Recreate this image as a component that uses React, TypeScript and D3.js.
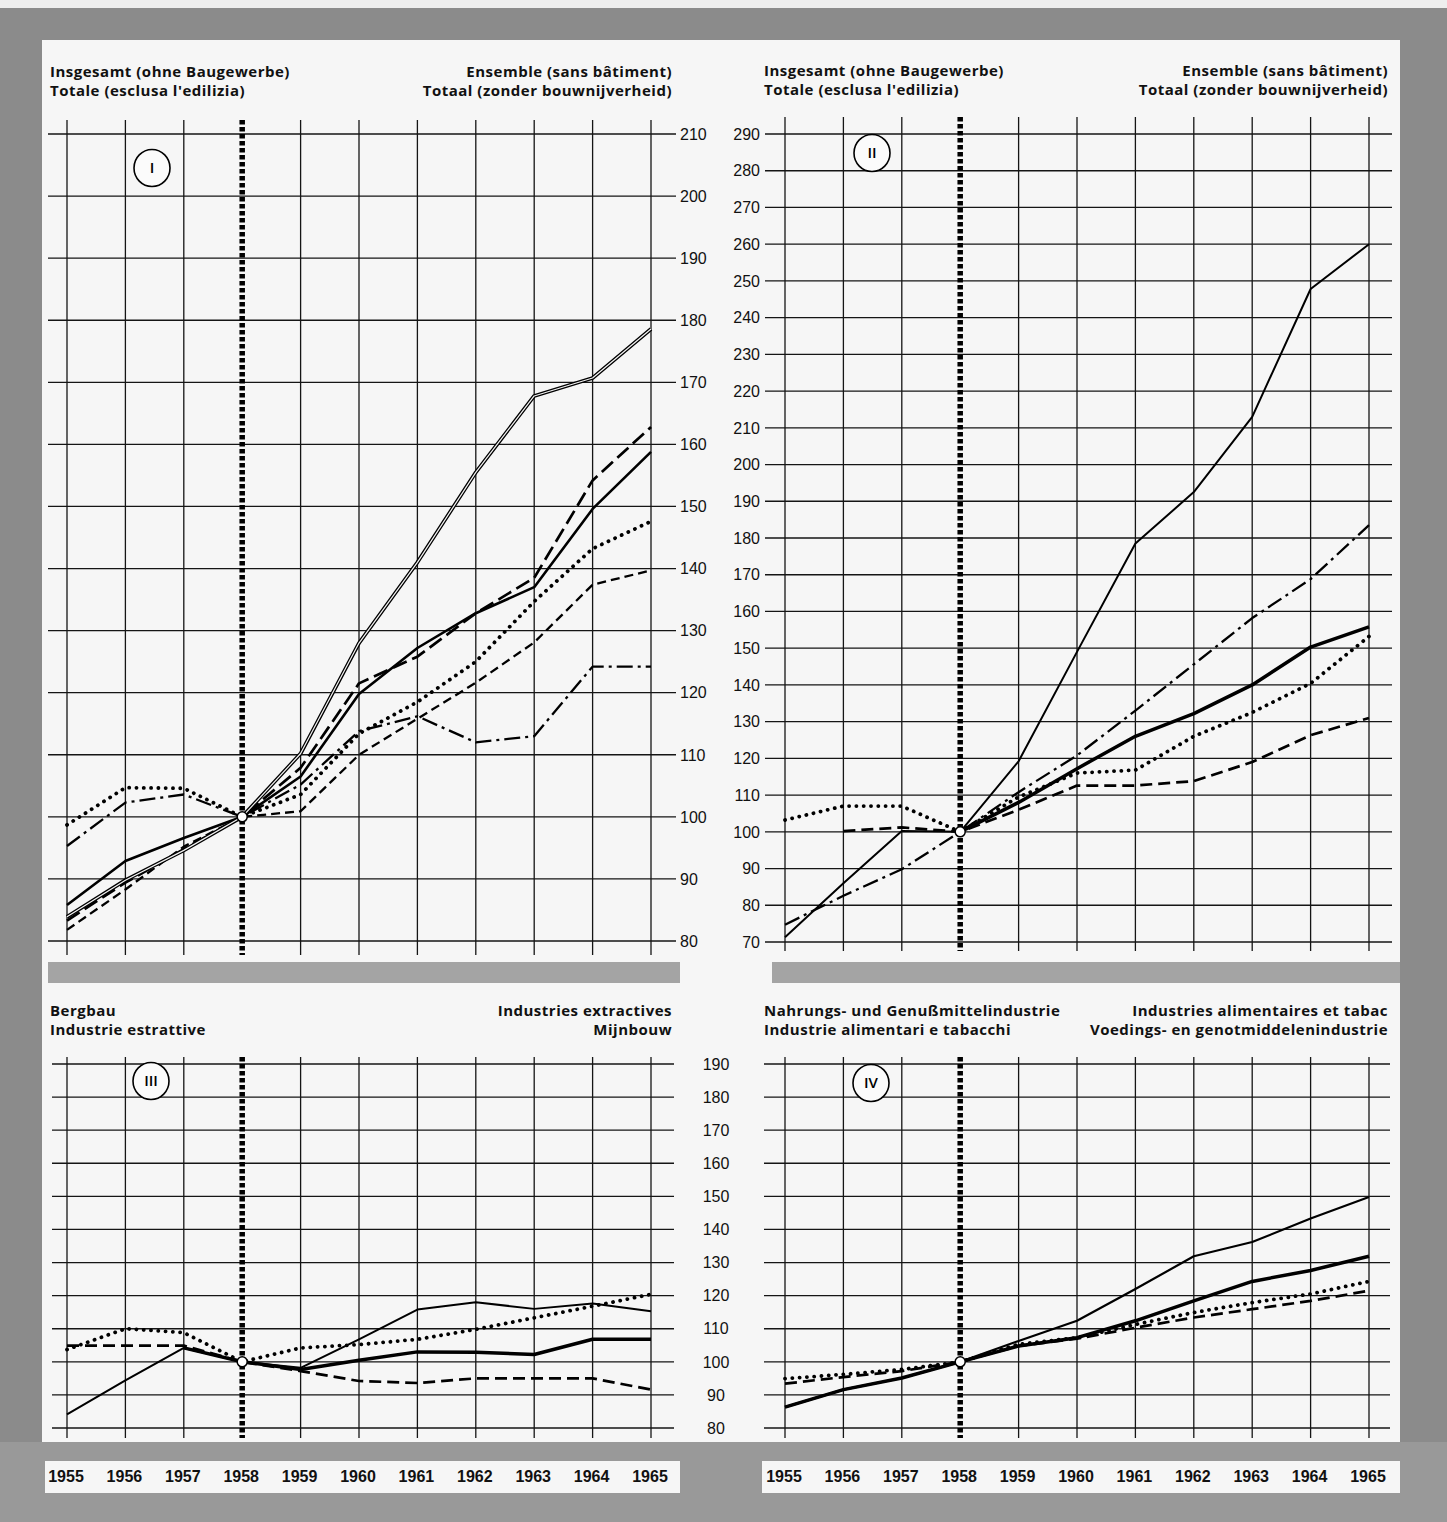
import React from "react";
import * as d3 from "d3";

// ---------- DATA ----------
const years = [1955, 1956, 1957, 1958, 1959, 1960, 1961, 1962, 1963, 1964, 1965];

// Panel I – Insgesamt / Ensemble
const I_double = [83.9, 89.8, 94.6, 100, 110.2, 128, 141, 155.5, 167.8, 170.7, 178.6];
const I_longDash = [83.3, 89.4, 94.8, 100, 107.9, 121.5, 125.8, 132.8, 138.5, 154.2, 162.8];
const I_solid = [85.8, 92.9, 96.6, 100, 106.5, 119.8, 127.2, 132.8, 137, 149.6, 158.8];
const I_dotted = [98.7, 104.7, 104.6, 100, 103.6, 113.4, 118.5, 125, 134.7, 143.2, 147.6];
const I_shortDash = [81.8, 88.3, 95.2, 100, 100.9, 110, 115.8, 121.6, 128.1, 137.4, 139.7];
const I_dashDot = [95.3, 102.3, 103.6, 100, 105.2, 113.8, 116.2, 112, 113, 124.2, 124.2];

// Panel II – Insgesamt / Ensemble
const II_thin = [71.3, 86, 100.2, 100, 119.2, 149, 178.5, 192.5, 213, 247.8, 260];
const II_dashDot = [74.7, 82.6, 89.8, 100, 110.8, 120.8, 133, 145.6, 158.2, 168.8, 183.5];
const II_thick = [null, null, null, 100, 108, 117.2, 126, 132.2, 140, 150.3, 155.8];
const II_dotted = [103.2, 107, 107, 100, 109.5, 116, 116.8, 126, 132.5, 140.4, 153.2];
const II_dashed = [null, 100.2, 101.2, 100, 106, 112.6, 112.6, 113.8, 119, 126.3, 131];

// Panel III – Bergbau
const III_thin = [84.1, 94.4, 104.2, 100, 98.2, 106.8, 115.8, 118, 116, 117.6, 115.3];
const III_thick = [null, null, 104.2, 100, 97.7, 100.5, 103, 102.9, 102.2, 106.8, 106.8];
const III_dotted = [103.7, 110, 108.8, 100, 104.2, 105.2, 106.8, 109.8, 113.3, 116.8, 120.4];
const III_dashed = [104.9, 104.9, 104.9, 100, 97.2, 94.2, 93.6, 95, 95, 95, 91.6];

// Panel IV – Nahrungs- und Genußmittelindustrie
const IV_thin = [86.3, 91.6, 95.1, 100, 106.3, 112.4, 122, 131.9, 136.2, 143.3, 149.8];
const IV_thick = [86.3, 91.6, 95.1, 100, 104.8, 107.3, 112.4, 118.4, 124.3, 127.6, 131.9];
const IV_dotted = [94.9, 96.2, 97.7, 100, 105.3, 107.3, 111.3, 114.9, 117.9, 120.5, 124.3];
const IV_dashed = [93.4, 95.4, 97.2, 100, 104.8, 107, 110.3, 113.4, 115.9, 118.4, 121.5];

// Tick labels
const ticksI = d3.range(80, 211, 10);
const ticksII = d3.range(70, 291, 10);
const ticksIII = d3.range(80, 191, 10);

// Texts
const headI = {
  left: ["Insgesamt (ohne Baugewerbe)", "Totale (esclusa l'edilizia)"],
  right: ["Ensemble (sans bâtiment)", "Totaal (zonder bouwnijverheid)"],
};
const headIII = {
  left: ["Bergbau", "Industrie estrattive"],
  right: ["Industries extractives", "Mijnbouw"],
};
const headIV = {
  left: ["Nahrungs- und Genußmittelindustrie", "Industrie alimentari e tabacchi"],
  right: ["Industries alimentaires et tabac", "Voedings- en genotmiddelenindustrie"],
};

// ---------- STYLE ----------
type Style = { w: number; dash?: string; cap?: "round" | "butt"; double?: boolean };
const S_thin: Style = { w: 2 };
const S_solid: Style = { w: 2.6 };
const S_thick: Style = { w: 3.5 };
const S_double: Style = { w: 3.8, double: true };
const S_longDash: Style = { w: 2.7, dash: "15 6" };
const S_shortDash: Style = { w: 2.3, dash: "9 5" };
const S_dashed: Style = { w: 2.7, dash: "12 6" };
const S_dotted: Style = { w: 3.8, dash: "0.1 7.2", cap: "round" };
const S_dashDot: Style = { w: 2.3, dash: "16 5 3 5" };

type Series = { values: (number | null)[]; style: Style };

type Panel = {
  key: string;
  xRange: [number, number];
  yDomain: [number, number];
  yRange: [number, number];
  vTop: number;
  vBottom: number;
  hLeft: number;
  hRight: number;
  ticks: number[];
  labelX: number | null;
  labelAnchor: "start" | "end" | "middle";
  head: { left: string[]; right: string[] };
  headLeftX: number;
  headRightX: number;
  headY: number;
  roman: string;
  romanPos: [number, number];
  series: Series[];
  yearStrip: boolean;
};

const panels: Panel[] = [
  {
    key: "I", xRange: [67, 651], yDomain: [80, 210], yRange: [941, 134],
    vTop: 120, vBottom: 955, hLeft: 48, hRight: 676, ticks: ticksI,
    labelX: 680, labelAnchor: "start", head: headI, headLeftX: 50, headRightX: 672, headY: 77,
    roman: "I", romanPos: [152, 168], yearStrip: false,
    series: [
      { values: I_shortDash, style: S_shortDash },
      { values: I_dashDot, style: S_dashDot },
      { values: I_dotted, style: S_dotted },
      { values: I_solid, style: S_solid },
      { values: I_longDash, style: S_longDash },
      { values: I_double, style: S_double },
    ],
  },
  {
    key: "II", xRange: [785, 1369], yDomain: [70, 290], yRange: [942, 134],
    vTop: 117, vBottom: 951, hLeft: 765, hRight: 1392, ticks: ticksII,
    labelX: 760, labelAnchor: "end", head: headI, headLeftX: 764, headRightX: 1388, headY: 76,
    roman: "II", romanPos: [872, 153], yearStrip: false,
    series: [
      { values: II_dashed, style: S_dashed },
      { values: II_dotted, style: S_dotted },
      { values: II_thick, style: S_thick },
      { values: II_dashDot, style: S_dashDot },
      { values: II_thin, style: S_thin },
    ],
  },
  {
    key: "III", xRange: [67, 651], yDomain: [80, 190], yRange: [1428, 1064],
    vTop: 1057, vBottom: 1438, hLeft: 52, hRight: 674, ticks: ticksIII,
    labelX: 716, labelAnchor: "middle", head: headIII, headLeftX: 50, headRightX: 672, headY: 1016,
    roman: "III", romanPos: [151, 1081], yearStrip: true,
    series: [
      { values: III_dashed, style: S_dashed },
      { values: III_dotted, style: S_dotted },
      { values: III_thick, style: S_thick },
      { values: III_thin, style: S_thin },
    ],
  },
  {
    key: "IV", xRange: [785, 1369], yDomain: [80, 190], yRange: [1428, 1064],
    vTop: 1057, vBottom: 1438, hLeft: 764, hRight: 1390, ticks: ticksIII,
    labelX: null, labelAnchor: "middle", head: headIV, headLeftX: 764, headRightX: 1388, headY: 1016,
    roman: "IV", romanPos: [871, 1083], yearStrip: true,
    series: [
      { values: IV_dashed, style: S_dashed },
      { values: IV_dotted, style: S_dotted },
      { values: IV_thick, style: S_thick },
      { values: IV_thin, style: { w: 2.2 } },
    ],
  },
];

const headFont = "'Open Sans', Lato, sans-serif";
const numFont = "'Liberation Sans Narrow', 'Liberation Sans', Arial, sans-serif";

function PanelView({ p }: { p: Panel }) {
  const x = d3.scaleLinear().domain([years[0], years[years.length - 1]]).range(p.xRange);
  const y = d3.scaleLinear().domain(p.yDomain).range(p.yRange);
  const line = d3
    .line<number | null>()
    .defined((d) => d != null)
    .x((_, i) => x(years[i]))
    .y((d) => y(d as number));
  const ink = "#151515";
  return (
    <g>
      {/* horizontal grid */}
      {p.ticks.map((t) => (
        <line key={"h" + t} x1={p.hLeft} x2={p.hRight} y1={y(t)} y2={y(t)} stroke={ink} strokeWidth={1.3} />
      ))}
      {/* vertical grid */}
      {years.map((yr) =>
        yr === 1958 ? null : (
          <line key={"v" + yr} x1={x(yr)} x2={x(yr)} y1={p.vTop} y2={p.vBottom} stroke={ink} strokeWidth={1.3} />
        )
      )}
      {/* base-year dotted bar */}
      <line x1={x(1958)} x2={x(1958)} y1={p.vTop} y2={p.vBottom} stroke="#000" strokeWidth={5.5} strokeDasharray="4.5 2.5" />
      {/* tick labels */}
      {p.labelX != null &&
        p.ticks.map((t) => (
          <text key={"t" + t} x={p.labelX as number} y={y(t)} dy="0.36em" textAnchor={p.labelAnchor}
            fontFamily={numFont} fontSize={16} fill="#111">
            {t}
          </text>
        ))}
      {/* series */}
      {p.series.map((s, i) => {
        const d = line(s.values) || "";
        if (s.style.double) {
          return (
            <g key={"s" + i}>
              <path d={d} fill="none" stroke="#000" strokeWidth={s.style.w} strokeLinejoin="round" />
              <path d={d} fill="none" stroke="#f4f4f4" strokeWidth={1.2} strokeLinejoin="round" />
            </g>
          );
        }
        return (
          <path key={"s" + i} d={d} fill="none" stroke="#000" strokeWidth={s.style.w}
            strokeDasharray={s.style.dash} strokeLinecap={s.style.cap || "butt"} strokeLinejoin="round" />
        );
      })}
      {/* base point */}
      <circle cx={x(1958)} cy={y(100)} r={5} fill="#fff" stroke="#000" strokeWidth={1.5} />
      {/* roman numeral */}
      <ellipse cx={p.romanPos[0]} cy={p.romanPos[1]} rx={18} ry={18.5} fill="#fbfbfb" stroke="#000" strokeWidth={1.6} />
      <text x={p.romanPos[0]} y={p.romanPos[1]} dy="0.36em" textAnchor="middle" fontFamily={headFont}
        fontWeight={600} fontSize={15} fill="#000">
        {p.roman}
      </text>
      {/* headers */}
      {p.head.left.map((t, i) => (
        <text key={"hl" + i} x={p.headLeftX} y={p.headY + i * 19} fontFamily={headFont} fontWeight={700}
          fontSize={15} letterSpacing={0.5} fill="#111">
          {t}
        </text>
      ))}
      {p.head.right.map((t, i) => (
        <text key={"hr" + i} x={p.headRightX} y={p.headY + i * 19} textAnchor="end" fontFamily={headFont}
          fontWeight={700} fontSize={15} letterSpacing={0.5} fill="#111">
          {t}
        </text>
      ))}
      {/* year labels */}
      {p.yearStrip &&
        years.map((yr) => (
          <text key={"y" + yr} x={x(yr) - 1} y={1482} textAnchor="middle" fontFamily={numFont}
            fontWeight={700} fontSize={16} fill="#111">
            {yr}
          </text>
        ))}
    </g>
  );
}

export default function App() {
  return (
    <div style={{ position: "absolute", left: 0, top: 0, width: 1447, height: 1522 }}>
      <svg width={1447} height={1522} viewBox="0 0 1447 1522" style={{ display: "block" }}>
        {/* scanned page background */}
        <rect x={0} y={0} width={1447} height={1522} fill="#8b8b8b" />
        <rect x={0} y={0} width={1447} height={8} fill="#eeeeee" />
        {/* white sheet */}
        <rect x={42} y={40} width={1358} height={1402} fill="#f6f6f6" />
        {/* gray bands between upper and lower panels */}
        <rect x={48} y={962} width={632} height={21} fill="#a4a4a4" />
        <rect x={772} y={962} width={628} height={21} fill="#a4a4a4" />
        {/* bottom gray band */}
        <rect x={0} y={1442} width={1447} height={80} fill="#999999" />
        {/* year strips */}
        <rect x={45} y={1461} width={635} height={32} fill="#f6f6f6" />
        <rect x={762} y={1461} width={638} height={32} fill="#f6f6f6" />
        {panels.map((p) => (
          <PanelView key={p.key} p={p} />
        ))}
      </svg>
    </div>
  );
}
